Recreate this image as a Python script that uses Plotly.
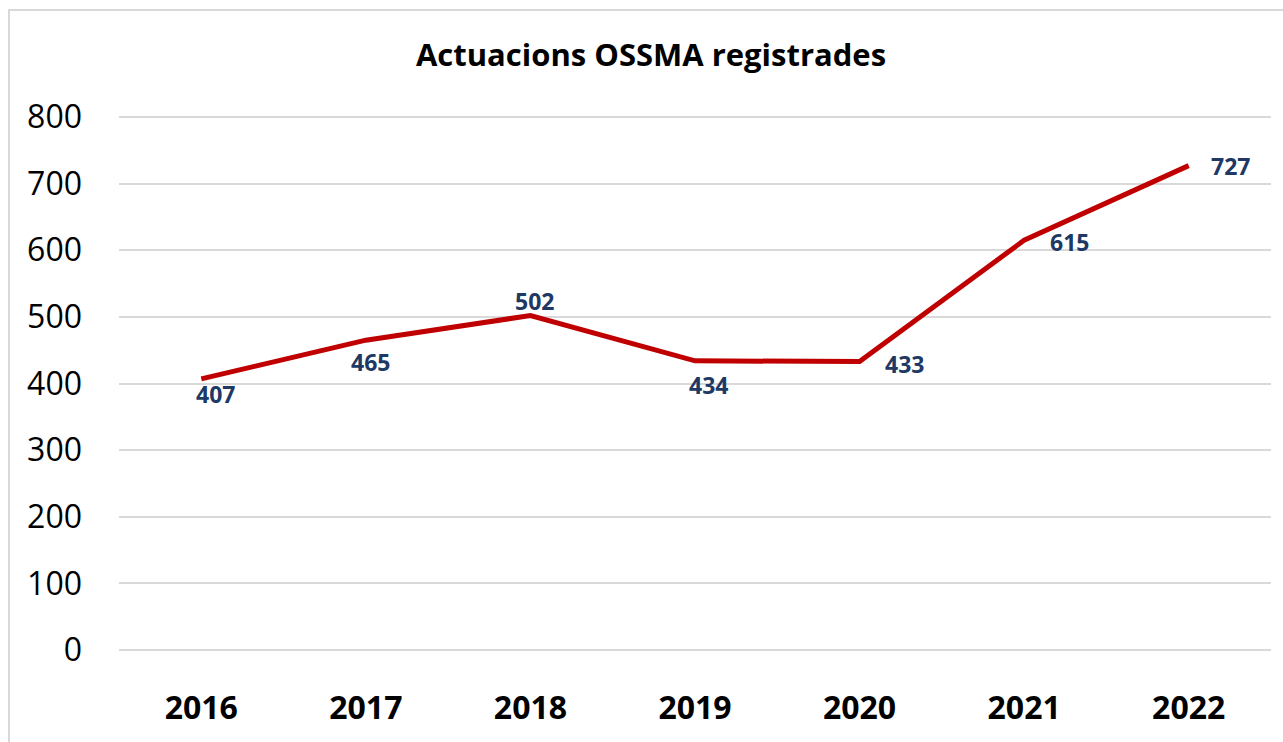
import plotly.graph_objects as go

years = ["2016", "2017", "2018", "2019", "2020", "2021", "2022"]
values = [407, 465, 502, 434, 433, 615, 727]
label_xshift = [14, 5, 4, 13, 45, 45, 42]
label_yshift = [-15, -22, 15, -24, -2, -2, 0]

title_text = "Actuacions OSSMA registrades"
y_ticks = [0, 100, 200, 300, 400, 500, 600, 700, 800]

FONT = "Open Sans"
LINE_COLOR = "#C00000"
LABEL_COLOR = "#203864"
GRID_COLOR = "#D9D9D9"

W, H = 1283, 742
ML, MR, MT, MB = 119, 12, 113, 88
PW = W - ML - MR
PH = H - MT - MB

fig = go.Figure()
fig.add_trace(go.Scatter(
    x=years, y=values, mode="lines",
    line=dict(color=LINE_COLOR, width=5),
    hoverinfo="x+y", showlegend=False,
))

for i, (v, dx, dy) in enumerate(zip(values, label_xshift, label_yshift)):
    fig.add_annotation(
        x=i, y=v, xref="x", yref="y", text=str(v), showarrow=False,
        xshift=dx, yshift=dy,
        font=dict(family=FONT, size=23, color=LABEL_COLOR, weight="bold"),
    )

def px_to_paper_x(px):
    return (px - ML) / PW

def px_to_paper_y(py):
    return (H - MB - py) / PH

fig.add_shape(
    type="rect", xref="paper", yref="paper",
    x0=px_to_paper_x(9), x1=px_to_paper_x(W + 20),
    y0=px_to_paper_y(H + 20), y1=px_to_paper_y(10),
    line=dict(color=GRID_COLOR, width=2), fillcolor="rgba(0,0,0,0)",
    layer="below",
)

fig.update_layout(
    width=W, height=H,
    margin=dict(l=ML, r=MR, t=MT, b=MB, autoexpand=False),
    paper_bgcolor="white", plot_bgcolor="white",
    title=dict(
        text=title_text, x=651 / W, xref="container", xanchor="center",
        y=1 - 55 / H, yref="container", yanchor="middle",
        font=dict(family=FONT, size=31, color="black", weight="bold"),
    ),
    xaxis=dict(
        type="category", range=[-0.5, len(years) - 0.5],
        showgrid=False, showline=False, zeroline=False,
        ticks="", ticklabelstandoff=32,
        tickfont=dict(family=FONT, size=32, color="black", weight="bold"),
    ),
    yaxis=dict(
        range=[-6, 806], tickvals=y_ticks,
        showgrid=True, gridcolor=GRID_COLOR, gridwidth=1.5,
        zeroline=False, showline=False, ticks="",
        ticklabelstandoff=36,
        tickfont=dict(family=FONT, size=32, color="black"),
    ),
)

fig.write_html(
    "out.html",
    config={"displayModeBar": False},
    post_script="document.body.style.margin='0';document.body.style.overflow='hidden';",
)
